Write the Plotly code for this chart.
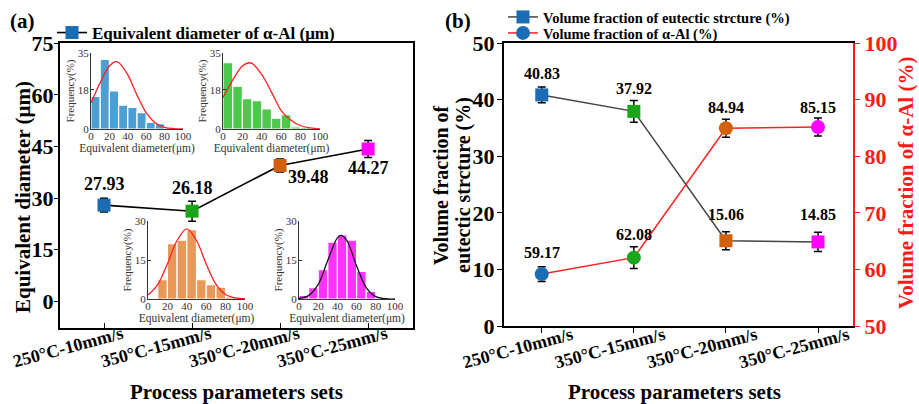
import plotly.graph_objects as go

# ---------------- data ----------------
categories = ["250°C-10mm/s", "350°C-15mm/s", "350°C-20mm/s", "350°C-25mm/s"]
point_colors = ["#1a6cb5", "#1aa51a", "#d2600c", "#ff00ff"]

eq_diameter = [27.93, 26.18, 39.48, 44.27]
eq_diameter_err = [2.0, 2.9, 1.9, 2.5]

eutectic_frac = [40.83, 37.92, 15.06, 14.85]
eutectic_err = [1.4, 1.9, 1.6, 1.7]
alal_frac = [59.17, 62.08, 84.94, 85.15]
alal_err = [1.3, 1.9, 1.6, 1.6]

# inset histograms (bin centres, 10 µm wide bins) and fitted curves
bin_centers = [5, 15, 25, 35, 45, 55, 65, 75, 85, 95]
hist_250_10 = [15, 32, 17.5, 11, 10, 7.5, 3, 2.5, 0.5, 0]
hist_350_15 = [30.5, 19.7, 14, 13, 9.2, 5, 6.6, 1, 0.8, 0.3]
hist_350_20 = [0, 7.4, 21.3, 22.6, 26.7, 7.4, 5.5, 4.6, 0.8, 0]
hist_350_25 = [1.4, 4.4, 11.3, 21.9, 24.7, 22.6, 10.6, 2.9, 0, 0]

fit_x_250_10 = [0, 10, 20, 27, 30, 40, 50, 60, 70, 80, 90, 100]
fit_y_250_10 = [12, 21.3, 29, 31, 30.6, 24.9, 15.6, 7.5, 2.8, 0.8, 0.2, 0]
fit_x_350_15 = [0, 10, 20, 27, 30, 40, 50, 60, 70, 80, 90, 100]
fit_y_350_15 = [14.5, 22.5, 29, 30.5, 30.2, 25, 17, 8.5, 4, 1.5, 0.5, 0.1]
fit_x_350_20 = [0, 10, 20, 30, 40, 50, 60, 70, 80, 90, 100]
fit_y_350_20 = [1.5, 5.5, 13.5, 22.5, 27, 22.5, 13.5, 5.7, 1.7, 0.4, 0.05]
fit_x_350_25 = [0, 10, 20, 30, 40, 44, 50, 60, 70, 80, 90, 100]
fit_y_350_25 = [0.2, 1.3, 5.6, 14.9, 23.5, 24.5, 22.4, 12.7, 4.4, 0.9, 0.1, 0]

a_yticks = [0, 15, 30, 45, 60, 75]
b_yticks_left = [0, 10, 20, 30, 40, 50]
b_yticks_right = [50, 60, 70, 80, 90, 100]

# ---------------- helpers ----------------
W, H = 919, 404
FONT = "Liberation Serif"


def px(p):
    return p / W


def py(p):
    return 1 - p / H


fig = go.Figure()

# ---------------- panel (a) main ----------------
fig.add_trace(go.Scatter(
    x=list(range(4)), y=eq_diameter, mode="lines+markers",
    name="Equivalent diameter of α-Al (μm)",
    line=dict(color="black", width=1.6),
    marker=dict(symbol="square", size=13, color=point_colors, line=dict(width=0)),
    error_y=dict(type="data", array=eq_diameter_err, color="black", thickness=1.5, width=4),
    xaxis="x", yaxis="y", legend="legend", cliponaxis=False,
))

# ---------------- panel (b) ----------------
fig.add_trace(go.Scatter(
    x=list(range(4)), y=eutectic_frac, mode="lines+markers",
    name="Volume fraction of eutectic strcture (%)",
    line=dict(color="#444444", width=1.5),
    marker=dict(symbol="square", size=13, color=point_colors, line=dict(width=0)),
    error_y=dict(type="data", array=eutectic_err, color="black", thickness=1.5, width=4),
    xaxis="x2", yaxis="y2", legend="legend2", cliponaxis=False,
))
fig.add_trace(go.Scatter(
    x=list(range(4)), y=alal_frac, mode="lines+markers",
    name="Volume fraction of α-Al (%)",
    line=dict(color="#ff2020", width=1.5),
    marker=dict(symbol="circle", size=14, color=point_colors, line=dict(width=0)),
    error_y=dict(type="data", array=alal_err, color="black", thickness=1.5, width=4),
    xaxis="x2", yaxis="y3", legend="legend3", cliponaxis=False,
))

# ---------------- insets ----------------
insets = [
    (hist_250_10, fit_x_250_10, fit_y_250_10, "#4b9fd5", "#ff2020", "x4", "y4"),
    (hist_350_15, fit_x_350_15, fit_y_350_15, "#4cc94c", "#ff2020", "x5", "y5"),
    (hist_350_20, fit_x_350_20, fit_y_350_20, "#e8995a", "#ff2020", "x6", "y6"),
    (hist_350_25, fit_x_350_25, fit_y_350_25, "#ff33ff", "#111111", "x7", "y7"),
]
for hist, fx, fy, bc, lc, xa, ya in insets:
    fig.add_trace(go.Bar(
        x=bin_centers, y=hist, width=10, marker=dict(color=bc, line=dict(color="white", width=1.2)),
        xaxis=xa, yaxis=ya, showlegend=False,
    ))
    fig.add_trace(go.Scatter(
        x=fx, y=fy, mode="lines", line=dict(color=lc, width=1.3, shape="spline", smoothing=1.0),
        xaxis=xa, yaxis=ya, showlegend=False,
    ))

# ---------------- layout ----------------
tick_big = dict(family=FONT, size=22, color="black", weight="bold")
tick_cat = dict(family=FONT, size=18, color="black", weight="bold")
small = dict(family=FONT, size=11, color="#333333")

layout = dict(
    width=W, height=H, autosize=False,
    margin=dict(l=0, r=0, t=0, b=0, autoexpand=False),
    paper_bgcolor="white", plot_bgcolor="rgba(0,0,0,0)",
    showlegend=True,
    xaxis=dict(domain=[px(60), px(413)], range=[-0.5, 3.51], tickvals=list(range(4)), ticktext=categories,
               tickangle=-15, tickfont=tick_cat, ticks="inside", ticklen=5, tickcolor="black",
               showline=True, linecolor="black", linewidth=2, mirror=True, showgrid=False, zeroline=False,
               anchor="y", ticklabelshift=18, ticklabelstandoff=-13, automargin=False),
    yaxis=dict(domain=[py(328), py(43)], range=[-7.8, 75.1], tickvals=a_yticks, tickfont=tick_big,
               ticks="outside", ticklen=4, tickcolor="black", showline=True, linecolor="black", linewidth=2,
               mirror=True, showgrid=False, zeroline=False, anchor="x", automargin=False,
               ticklabelstandoff=-4),
    xaxis2=dict(domain=[px(504), px(853)], range=[-0.41, 3.38], tickvals=list(range(4)), ticktext=categories,
                tickangle=-15, tickfont=tick_cat, ticks="outside", ticklen=5, tickcolor="black",
                showline=True, linecolor="black", linewidth=2, mirror=True, showgrid=False, zeroline=False,
                anchor="y2", ticklabelshift=30, ticklabelstandoff=-15, automargin=False),
    yaxis2=dict(domain=[py(326), py(43)], range=[0, 50], tickvals=b_yticks_left, tickfont=tick_big,
                ticks="outside", ticklen=5, tickcolor="black", showline=True, linecolor="black", linewidth=2,
                showgrid=False, zeroline=False, anchor="x2", automargin=False, ticklabelstandoff=-2),
    yaxis3=dict(range=[50, 100], tickvals=b_yticks_right, tickfont=dict(tick_big, color="#ff1a1a"),
                ticks="outside", ticklen=5, tickcolor="#ff1a1a", showline=True, linecolor="#ff1a1a", linewidth=2,
                showgrid=False, zeroline=False, overlaying="y2", side="right", anchor="x2", automargin=False),
    legend=dict(x=px(52), y=py(33), xanchor="left", yanchor="middle", bgcolor="rgba(0,0,0,0)",
                font=dict(family=FONT, size=17, color="black", weight="bold")),
    legend2=dict(x=px(503), y=py(17), xanchor="left", yanchor="middle", bgcolor="rgba(0,0,0,0)",
                 font=dict(family=FONT, size=14.5, color="black", weight="bold")),
    legend3=dict(x=px(503), y=py(33), xanchor="left", yanchor="middle", bgcolor="rgba(0,0,0,0)",
                 font=dict(family=FONT, size=14.5, color="black", weight="bold")),
)

inset_boxes = {
    "4": (91, 183, 53, 129, [0, 35], [0, 18, 35]),
    "5": (223, 320, 53, 129, [0, 35], [0, 18, 35]),
    "6": (148, 245, 221, 299, [0, 30], [0, 15, 30]),
    "7": (299, 395, 221, 299, [0, 30], [0, 15, 30]),
}
for k, (x0, x1, y0, y1, yr, yt) in inset_boxes.items():
    layout["xaxis" + k] = dict(domain=[px(x0), px(x1)], range=[0, 100], tickvals=[0, 20, 40, 60, 80, 100],
                               tickfont=small, ticks="", showline=True, linecolor="#333333", linewidth=1,
                               showgrid=False, zeroline=False, anchor="y" + k, ticklabelstandoff=-3,
                               automargin=False,
                               title=dict(text="Equivalent diameter(μm)", font=dict(family=FONT, size=11.5, color="#333333"), standoff=0))
    layout["yaxis" + k] = dict(domain=[py(y1), py(y0)], range=yr, tickvals=yt,
                               tickfont=small, ticks="inside", ticklen=3, tickcolor="#333333", showline=True,
                               linecolor="#333333", linewidth=1, showgrid=False, zeroline=False, anchor="x" + k,
                               ticklabelstandoff=-1, automargin=False,
                               title=dict(text="Frequency(%)", font=dict(family=FONT, size=11, color="#333333"), standoff=0))

fig.update_layout(**layout)

# ---------------- annotations ----------------
ann = []
# data labels panel (a)
a_shift = [(0, 21), (0, 23), (28, -12), (0, -19)]
for i, v in enumerate(eq_diameter):
    ann.append(dict(x=i, y=v, xref="x", yref="y", text=f"<b>{v:.2f}</b>", showarrow=False,
                    xshift=a_shift[i][0], yshift=a_shift[i][1],
                    font=dict(family=FONT, size=18, color="black")))
# data labels panel (b)
for i, v in enumerate(eutectic_frac):
    ann.append(dict(x=i, y=v, xref="x2", yref="y2", text=f"<b>{v:.2f}</b>", showarrow=False,
                    yshift=[21, 23, 26, 27][i], font=dict(family=FONT, size=16, color="black")))
for i, v in enumerate(alal_frac):
    ann.append(dict(x=i, y=v, xref="x2", yref="y3", text=f"<b>{v:.2f}</b>", showarrow=False,
                    yshift=[22, 23, 21, 20][i], font=dict(family=FONT, size=16, color="black")))


def lab(xp, yp, text, size, color="black", angle=0):
    return dict(x=px(xp), y=py(yp), xref="paper", yref="paper", xanchor="center", yanchor="middle",
                text=text, textangle=angle, showarrow=False,
                font=dict(family=FONT, size=size, color=color))


ann += [
    lab(22, 21, "<b>(a)</b>", 21),
    lab(458, 21, "<b>(b)</b>", 21),
    lab(23, 197, "<b>Equivalent diameter (μm)</b>", 21, angle=-90),
    lab(237, 392, "<b>Process parameters sets</b>", 21),
    lab(674, 392, "<b>Process parameters sets</b>", 21),
    lab(441, 185, "<b>Volume fraction of</b>", 20, angle=-90),
    lab(464, 185, "<b>eutectic strcture (%)</b>", 20, angle=-90),
    lab(906, 183, "<b>Volume fraction of α-Al (%)</b>", 21, color="#ff1a1a", angle=-90),
]
fig.update_layout(annotations=ann)

fig.write_html("out.html")
